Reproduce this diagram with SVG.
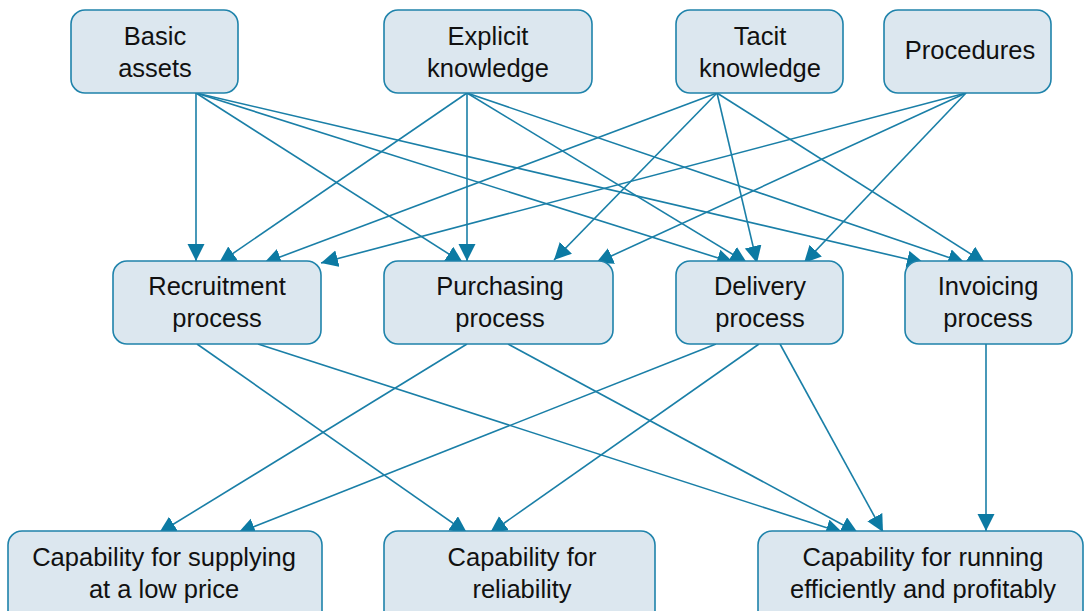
<svg xmlns="http://www.w3.org/2000/svg" width="1089" height="611" viewBox="0 0 1089 611">
<style>
.box{fill:#dce7ef;stroke:#1f83ab;stroke-width:1.6}
.lbl{font-family:"Liberation Sans",Arial,sans-serif;font-size:25.5px;fill:#111;text-anchor:middle}
.edge{stroke:#1a7fa7;stroke-width:1.6;fill:none;marker-end:url(#ah)}
</style>
<defs>
<marker id="ah" markerUnits="userSpaceOnUse" markerWidth="18" markerHeight="18" refX="17" refY="8.5" orient="auto">
<path d="M0,0 L17,8.5 L0,17 z" fill="#0c7aa3"/>
</marker>
</defs>
<rect width="1089" height="611" fill="#fff"/>
<g id="connectors">
<line class="edge" x1="196" y1="93" x2="196" y2="261"/>
<line class="edge" x1="196" y1="93" x2="463" y2="263"/>
<line class="edge" x1="196" y1="93" x2="734" y2="263"/>
<line class="edge" x1="196" y1="93" x2="924" y2="263"/>
<line class="edge" x1="467" y1="93" x2="219" y2="263"/>
<line class="edge" x1="467" y1="93" x2="467" y2="261"/>
<line class="edge" x1="467" y1="93" x2="747" y2="263"/>
<line class="edge" x1="467" y1="93" x2="965" y2="263"/>
<line class="edge" x1="717" y1="93" x2="264" y2="263"/>
<line class="edge" x1="717" y1="93" x2="554" y2="260"/>
<line class="edge" x1="717" y1="93" x2="757" y2="263"/>
<line class="edge" x1="717" y1="93" x2="985" y2="263"/>
<line class="edge" x1="966" y1="93" x2="321" y2="263"/>
<line class="edge" x1="966" y1="93" x2="596" y2="263"/>
<line class="edge" x1="966" y1="93" x2="804" y2="263"/>
<line class="edge" x1="197" y1="344" x2="467" y2="533"/>
<line class="edge" x1="258" y1="344" x2="843" y2="533"/>
<line class="edge" x1="467" y1="344" x2="159" y2="533"/>
<line class="edge" x1="508" y1="344" x2="858" y2="533"/>
<line class="edge" x1="716" y1="344" x2="238" y2="533"/>
<line class="edge" x1="759" y1="344" x2="490" y2="533"/>
<line class="edge" x1="780" y1="344" x2="883" y2="532"/>
<line class="edge" x1="986" y1="344" x2="986" y2="531"/>
</g>
<g id="n-basic"><rect class="box" x="71" y="10" width="167" height="83" rx="14"/><text class="lbl" x="155" y="45">Basic</text><text class="lbl" x="155" y="77">assets</text></g>
<g id="n-explicit"><rect class="box" x="384" y="10" width="208" height="83" rx="14"/><text class="lbl" x="488" y="45">Explicit</text><text class="lbl" x="488" y="77">knowledge</text></g>
<g id="n-tacit"><rect class="box" x="676" y="10" width="167" height="83" rx="14"/><text class="lbl" x="760" y="45">Tacit</text><text class="lbl" x="760" y="77">knowledge</text></g>
<g id="n-procedures"><rect class="box" x="884" y="10" width="167" height="83" rx="14"/><text class="lbl" x="970" y="59">Procedures</text></g>
<g id="n-recruitment"><rect class="box" x="113" y="261" width="208" height="83" rx="14"/><text class="lbl" x="217" y="295">Recruitment</text><text class="lbl" x="217" y="327">process</text></g>
<g id="n-purchasing"><rect class="box" x="384" y="261" width="229" height="83" rx="14"/><text class="lbl" x="500" y="295">Purchasing</text><text class="lbl" x="500" y="327">process</text></g>
<g id="n-delivery"><rect class="box" x="676" y="261" width="167" height="83" rx="14"/><text class="lbl" x="760" y="295">Delivery</text><text class="lbl" x="760" y="327">process</text></g>
<g id="n-invoicing"><rect class="box" x="905" y="261" width="167" height="83" rx="14"/><text class="lbl" x="988" y="295">Invoicing</text><text class="lbl" x="988" y="327">process</text></g>
<g id="n-supplying"><rect class="box" x="8" y="531" width="314" height="95" rx="14"/><text class="lbl" x="164" y="566">Capability for supplying</text><text class="lbl" x="164" y="598">at a low price</text></g>
<g id="n-reliability"><rect class="box" x="384" y="531" width="271" height="95" rx="14"/><text class="lbl" x="522" y="566">Capability for</text><text class="lbl" x="522" y="598">reliability</text></g>
<g id="n-running"><rect class="box" x="758" y="531" width="325" height="95" rx="14"/><text class="lbl" x="923" y="566">Capability for running</text><text class="lbl" x="923" y="598">efficiently and profitably</text></g>
</svg>
